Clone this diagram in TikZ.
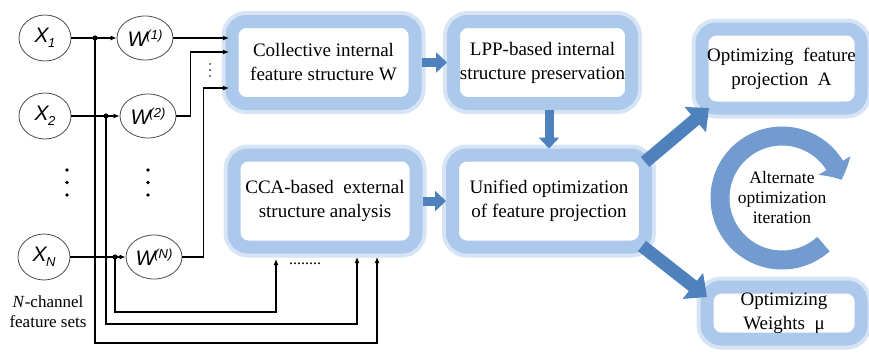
\documentclass[tikz,border=0pt]{standalone}
\usepackage{fontspec}
\setmainfont{Liberation Serif}
\newfontfamily\arialf{Liberation Sans}
\usetikzlibrary{arrows.meta,shapes.geometric,bending,calc}
\definecolor{glowA}{HTML}{ACC9EC}
\definecolor{glowB}{HTML}{D6E4F6}
\definecolor{fatblue}{HTML}{4F81BD}
\definecolor{arcblue}{HTML}{729CD0}
\newcommand{\xlab}[1]{X\kern-0.5pt\raisebox{-0.45ex}{\fontsize{13}{13}\selectfont #1}}
\newcommand{\wlab}[1]{W\kern-1pt\raisebox{0.6ex}{\fontsize{13}{13}\selectfont (#1)}}
\begin{document}
\begin{tikzpicture}[x=1pt,y=-1pt,
  gbox/.style={rounded corners=14pt, fill=white, draw=glowA, line width=13pt,
    preaction={draw=glowB, line width=21pt}, align=center,
    font=\fontsize{19}{24}\selectfont, inner sep=0pt},
  circ/.style={ellipse, draw=black!70, line width=0.8pt, minimum width=52pt,
    minimum height=46pt, inner sep=0pt, font=\arialf\itshape\fontsize{21}{21}\selectfont},
  thinarr/.style={line width=1.2pt, -{Latex[length=6pt,width=5pt]}},
  fat/.style={line width=9pt, fatblue, -{Triangle[length=11pt,width=20pt]}},
  diag/.style={line width=13pt, fatblue, -{Triangle[length=18pt,width=32pt]}},
  jdot/.style={fill=black},
]
\useasboundingbox (0,0) rectangle (869,354);

% boxes
\node[gbox, minimum width=183pt, minimum height=82pt] (coll) at (323.5,62.5) {Collective internal\\feature structure W};
\node[gbox, minimum width=178pt, minimum height=82pt] (lpp) at (542.5,62.5) {LPP-based internal\\structure preservation};
\node[gbox, minimum width=182pt, minimum height=92pt] (cca) at (325,201) {CCA-based\ \ external\\structure analysis};
\node[gbox, minimum width=193pt, minimum height=92pt] (uni) at (549,201) {Unified optimization\\of feature projection};
\node[gbox, minimum width=159pt, minimum height=79pt] (optA) at (781.5,68.5) {Optimizing\ \ feature\\projection\ \ A};
\node[gbox, minimum width=154pt, minimum height=52pt] (optW) at (784,313) {Optimizing\\Weights\ \ μ};

% circles
\node[circ] (X1) at (45,38) {\xlab{1}};
\node[circ] (X2) at (45,116) {\xlab{2}};
\node[circ] (XN) at (44,257) {\xlab{N}};
\node[circ, minimum width=56pt, minimum height=44pt] (W1) at (145,38) {\wlab{1}};
\node[circ, minimum width=56pt, minimum height=44pt] (W2) at (148,116) {\wlab{2}};
\node[circ, minimum width=56pt, minimum height=44pt] (WN) at (154,257) {\wlab{N}};

\node[align=center, font=\fontsize{17}{20}\selectfont] (lbl) at (48,312) {\textit{N}-channel\\feature sets};

% vertical dots
\foreach \yy in {170,182.5,195} {
  \fill (67,\yy) circle (1.9);
  \fill (148,\yy) circle (1.9);
}
\foreach \yy in {64,70,76} { \fill (210,\yy) circle (0.8); }
\node[font=\fontsize{16}{16}\selectfont] (dd) at (305,264) {........};

% junctions and target coordinates
\coordinate (j1) at (95,38);
\coordinate (j2) at (106,116);
\coordinate (jN) at (115,257);
\coordinate (cc1) at (377,257);
\coordinate (cc2) at (357,257);
\coordinate (cc3) at (276,259);
\coordinate (ci1) at (229,38);
\coordinate (ci2) at (229,52);
\coordinate (ci3) at (229,88);

\draw[thinarr] (X1) -- (W1);
\draw[thinarr] (X2) -- (W2);
\draw[thinarr] (XN) -- (WN);
\draw[thinarr] (j1) -- ++(0,305) -| (cc1);
\draw[thinarr] (j2) -- ++(0,208) -| (cc2);
\draw[thinarr] (jN) -- ++(0,55) -| (cc3);
\fill[jdot] (j1) circle (2.6);
\fill[jdot] (j2) circle (2.6);
\fill[jdot] (jN) circle (2.6);

\draw[thinarr] (W1) -- (ci1);
\draw[thinarr] (W2.east) -- ++(14,0) |- (ci2);
\draw[thinarr] (WN.east) -- ++(21,0) |- (ci3);

% fat arrows
\draw[fat] (coll.east) -- (lpp.west);
\draw[fat] (lpp.south -| uni.north) -- (uni.north);
\draw[fat] (cca.east) -- (uni.west);
\coordinate (d1s) at (645,162);
\coordinate (d1e) at (709,108);
\coordinate (d2s) at (642,246);
\coordinate (d2e) at (707,297);
\draw[diag] (d1s) -- (d1e);
\draw[diag] (d2s) -- (d2e);

% circular arrow
\coordinate (cen) at (782,198);
\draw[arcblue, line width=19pt, -{Triangle[length=16pt,width=36pt,bend]}]
  ($(cen)+(48:62)$) arc[start angle=48, end angle=343, radius=62];
\node[align=center, font=\fontsize{17.5}{20}\selectfont] (alt) at (cen) {Alternate\\optimization\\iteration};
\end{tikzpicture}
\end{document}
